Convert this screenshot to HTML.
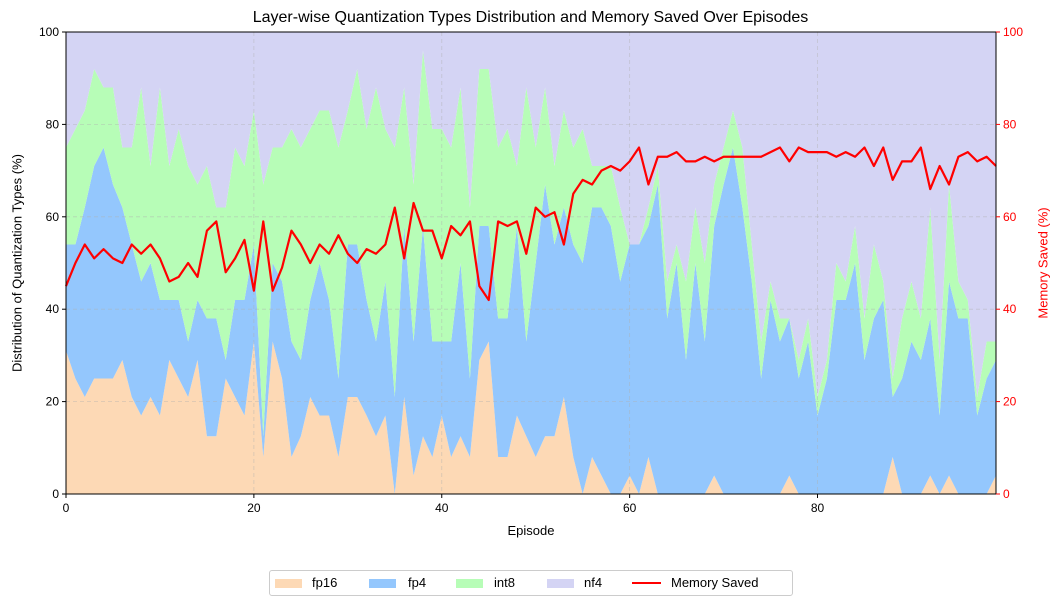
<!DOCTYPE html>
<html><head><meta charset="utf-8"><style>
body{margin:0;background:#fff;}
svg{display:block;font-family:"Liberation Sans","DejaVu Sans",sans-serif;}
</style></head><body>
<svg id="chart" width="1061" height="605"></svg>
<script>
const fp16=[31,25,21,25,25,25,29,21,17,21,17,29,25,21,29,12.5,12.5,25,21,17,33,8,33,25,8,12.5,21,17,17,8,21,21,17,12.5,17,0,21,4,12.5,8,17,8,12.5,8,29,33,8,8,17,12.5,8,12.5,12.5,21,8,0,8,4,0,0,4,0,8,0,0,0,0,0,0,4,0,0,0,0,0,0,0,4,0,0,0,0,0,0,0,0,0,0,8,0,0,0,4,0,4,0,0,0,0,4];
const fp4=[23,29,41,46,50,42,33,33,29,29,25,13,17,12,13,25.5,25.5,4,21,25,21,4.5,17,21,25,16.5,21,33,25,17,33,33,25,20.5,29,21,37,29,45.5,25,16,25,37.5,17,29,25,30,30,41,20.5,42,54.5,41.5,41,46,50,54,58,58,46,50,54,50,67,38,50,29,50,33,54,67,75,62,46,25,42,33,34,25,33,17,25,42,42,50,29,38,42,13,25,33,29,34,17,42,38,38,17,25,25];
const int8=[21,25,21,21,13,21,13,21,42,21,46,29,37,38,25,33,24,33,33,29,29,54.5,25,29,46,46,37,33,41,50,29,38,37,55,33,54,30,34,38,46,46,42,38,37,34,34,37,41,13,55,25,21,17,21,21,29,9,9,13,16,0,0,4,4,8,4,17,12,17,9,8,8,13,8,8,4,5,0,4,5,4,4,8,4,8,9,16,4,4,13,13,9,24,12,21,8,4,4,8,4];
const memorySaved=[45,50,54,51,53,51,50,54,52,54,51,46,47,50,47,57,59,48,51,55,44,59,44,49,57,54,50,54,52,56,52,50,53,52,54,62,51,63,57,57,51,58,56,59,45,42,59,58,59,52,62,60,61,54,65,68,67,70,71,70,72,75,67,73,73,74,72,72,73,72,73,73,73,73,73,74,75,72,75,74,74,74,73,74,73,75,71,75,68,72,72,75,66,71,67,73,74,72,73,71];
const xTicks=[0,20,40,60,80];
const yTicks=[0,20,40,60,80,100];
const seriesNames=["fp16","fp4","int8","nf4"];
const colors=["#fdd9b5","#94c7fd","#b7fdb7","#d4d4f4"];

const NS="http://www.w3.org/2000/svg";
const svg=document.getElementById('chart');
const L=66,R=996,T=32,B=494;
const n=memorySaved.length;
const xs=i=>L+(R-L)*i/(n-1);
const ys=v=>B-(B-T)*v/100;
function mk(tag,attrs,parent){const e=document.createElementNS(NS,tag);for(const k in attrs)e.setAttribute(k,attrs[k]);(parent||svg).appendChild(e);return e;}

const nf4=fp16.map((v,i)=>Math.max(0,100-v-fp4[i]-int8[i]));
const stacks=[fp16,fp4,int8,nf4];
let base=new Array(n).fill(0);
stacks.forEach((s,k)=>{
  const top=base.map((b,i)=>b+s[i]);
  let d="M"+xs(0)+","+ys(top[0]);
  for(let i=1;i<n;i++)d+="L"+xs(i)+","+ys(top[i]);
  for(let i=n-1;i>=0;i--)d+="L"+xs(i)+","+ys(base[i]);
  const p=mk('path',{d:d+"Z",fill:colors[k]});
  
  
  base=top;
});
// grid
xTicks.forEach(t=>{const g=mk('line',{x1:xs(t),x2:xs(t),y1:T,y2:B,stroke:"#b0b0b0","stroke-opacity":0.5,"stroke-dasharray":"4,3","stroke-width":0.8});

});
yTicks.forEach(t=>{const g=mk('line',{x1:L,x2:R,y1:ys(t),y2:ys(t),stroke:"#b0b0b0","stroke-opacity":0.5,"stroke-dasharray":"4,3","stroke-width":0.8});

});
// memory line
const pts=memorySaved.map((v,i)=>xs(i)+","+ys(v)).join(" ");
const ml=mk('polyline',{points:pts,fill:"none",stroke:"#ff0000","stroke-width":2.2,"stroke-linejoin":"round"});


// frame
const fr=mk('rect',{x:L,y:T,width:R-L,height:B-T,fill:"none",stroke:"#000","stroke-width":1});


// ticks
xTicks.forEach(t=>{mk('line',{x1:xs(t),x2:xs(t),y1:B,y2:B+4,stroke:"#000"});
const tx=mk('text',{x:xs(t),y:B+18,"text-anchor":"middle","font-size":12});tx.textContent=t;

});
yTicks.forEach(t=>{mk('line',{x1:L-4,x2:L,y1:ys(t),y2:ys(t),stroke:"#000"});
const tx=mk('text',{x:L-7,y:ys(t)+4,"text-anchor":"end","font-size":12});tx.textContent=t;


mk('line',{x1:R,x2:R+4,y1:ys(t),y2:ys(t),stroke:"#ff0000"});
const t2=mk('text',{x:R+7,y:ys(t)+4,"text-anchor":"start","font-size":12,fill:"#ff0000"});t2.textContent=t;

});
</script>
<svg width="0" height="0"></svg>
<div style="position:absolute;left:0;top:0;width:1061px;height:605px;pointer-events:none;font-family:'Liberation Sans',sans-serif;">
<div style="position:absolute;left:0;width:1061px;top:9px;text-align:center;font-size:16px;color:#000;">Layer-wise Quantization Types Distribution and Memory Saved Over Episodes</div>
<div style="position:absolute;left:481px;width:100px;top:523px;text-align:center;font-size:13px;">Episode</div>
<div style="position:absolute;left:17px;top:263px;font-size:13px;transform:translate(-50%,-50%) rotate(-90deg);white-space:nowrap;">Distribution of Quantization Types (%)</div>
<div style="position:absolute;left:1043px;top:263px;font-size:13px;color:#ff0000;transform:translate(-50%,-50%) rotate(-90deg);white-space:nowrap;">Memory Saved (%)</div>
<div style="position:absolute;left:269px;top:570px;width:522px;height:24px;border:1px solid #ccc;border-radius:3px;background:#fff;font-size:13px;">
 <div><span style="position:absolute;left:5px;top:8px;width:27px;height:9px;background:#fdd9b5"></span><span style="position:absolute;left:42px;top:4px;">fp16</span></div>
 <div><span style="position:absolute;left:99px;top:8px;width:27px;height:9px;background:#94c7fd"></span><span style="position:absolute;left:138px;top:4px;">fp4</span></div>
 <div><span style="position:absolute;left:186px;top:8px;width:27px;height:9px;background:#b7fdb7"></span><span style="position:absolute;left:224px;top:4px;">int8</span></div>
 <div><span style="position:absolute;left:277px;top:8px;width:27px;height:9px;background:#d4d4f4"></span><span style="position:absolute;left:314px;top:4px;">nf4</span></div>
 <div><span style="position:absolute;left:362px;top:11px;width:29px;height:2px;background:#ff0000"></span><span style="position:absolute;left:401px;top:4px;">Memory Saved</span></div>
</div>
</div>
</body></html>
